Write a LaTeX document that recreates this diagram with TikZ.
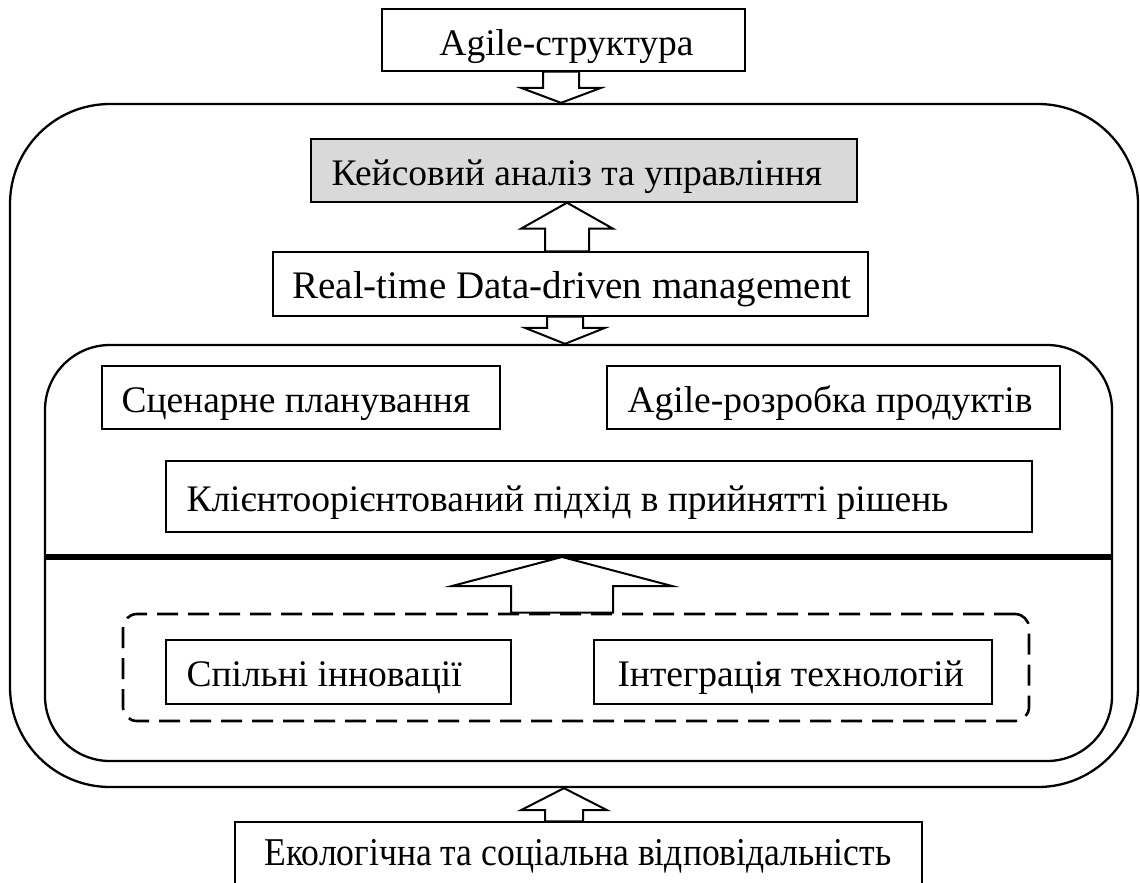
\documentclass[tikz,border=0pt]{standalone}
\usepackage{fontspec}
\setmainfont{Liberation Serif}
\usetikzlibrary{calc}

\definecolor{boxgray}{HTML}{D9D9D9}

% vertical block arrow: tail point #1, tip level #2, shaft half-width #3,
% head half-width #4, head length #5
\newcommand{\blockarrow}[5]{%
  \draw[blockarr] let \p1=(#1), \p2=(#2), \n1={sign(\y2-\y1)} in
    (\x1,\y2) -- (\x1+#4,\y2-\n1*#5) -- (\x1+#3,\y2-\n1*#5) -- (\x1+#3,\y1)
    -- (\x1-#3,\y1) -- (\x1-#3,\y2-\n1*#5) -- (\x1-#4,\y2-\n1*#5) -- cycle;}

\tikzset{
  plainbox/.style={draw, line width=1.4pt, fill=white, inner sep=0pt},
  graybox/.style={plainbox, fill=boxgray},
  lbl/.style={inner sep=0pt, anchor=base west, font=\fontsize{37.5}{40}\selectfont},
  frame/.style={draw, line width=2.3pt, inner sep=0pt},
  blockarr/.style={draw, line width=2pt, fill=white, line join=miter},
  divider/.style={line width=5.5pt},
  dashframe/.style={draw, line width=2.6pt, dash pattern=on 21pt off 10pt, inner sep=0pt, rounded corners=14pt},
}

\begin{document}
\begin{tikzpicture}[x=1pt, y=-1pt]
  \useasboundingbox (0,0) rectangle (1140,883);
  \clip (0,0) rectangle (1140,883);

  % outer frame and the boxes above the inner frame
  \node[frame, rounded corners=100pt, minimum width=1128pt, minimum height=683pt] (outer) at (574,445.5) {};
  \node[plainbox, minimum width=363pt, minimum height=62pt] (top) at (563.5,40) {};
  \node[lbl, anchor=base] (top-t) at ($(top.south)+(3,-16)$) {Agile-структура};
  \node[graybox, minimum width=546pt, minimum height=63pt] (case) at (584,170.5) {};
  \node[lbl] (case-t) at ($(case.south west)+(21,-17)$) {Кейсовий аналіз та управління};
  \node[plainbox, minimum width=595pt, minimum height=64pt] (rt) at (570.5,284) {};
  \node[lbl, font=\fontsize{39}{42}\selectfont] (rt-t) at ($(rt.south west)+(20,-18)$) {Real-time Data-driven management};

  % inner frame
  \node[frame, rounded corners=65pt, minimum width=1067pt, minimum height=416pt] (inner) at (578.5,553) {};
  \node[plainbox, minimum width=398pt, minimum height=63pt] (scen) at (301,397.5) {};
  \node[lbl] (scen-t) at ($(scen.south west)+(20,-17)$) {Сценарне планування};
  \node[plainbox, minimum width=453pt, minimum height=63pt] (agdev) at (833.5,397.5) {};
  \node[lbl] (agdev-t) at ($(agdev.south west)+(21,-17)$) {Agile-розробка продуктів};
  \node[plainbox, minimum width=866pt, minimum height=71pt] (client) at (599,496.5) {};
  \node[lbl] (client-t) at ($(client.south west)+(21,-21)$) {Клієнтоорієнтований підхід в прийнятті рішень};

  % divider across the inner frame
  \coordinate (divL) at (inner.west |- 0,557);
  \coordinate (divR) at (inner.east |- 0,557);
  \draw[divider] (divL) -- (divR);

  % dashed group
  \node[dashframe, minimum width=906pt, minimum height=107pt] (group) at (576,667.5) {};
  \node[plainbox, minimum width=345pt, minimum height=64pt] (joint) at (338.5,672) {};
  \node[lbl] (joint-t) at ($(joint.south west)+(21,-18)$) {Спільні інновації};
  \node[plainbox, minimum width=398pt, minimum height=64pt] (integ) at (793,672) {};
  \node[lbl] (integ-t) at ($(integ.south west)+(24,-18)$) {Інтеграція технологій};

  % bottom box, running past the lower edge
  \node[plainbox, minimum width=687pt, minimum height=84pt] (eco) at (578.5,864) {};
  \node[lbl] (eco-t) at ($(eco.north west)+(30,44)$) {\scalebox{0.95}[1.05]{Екологічна та соціальна відповідальність}};

  % block arrows
  \blockarrow{$(top.south)+(-2.5,0)$}{outer.north}{18pt}{40pt}{15pt}
  \blockarrow{$(rt.north)+(-3.5,0)$}{case.south}{22pt}{46pt}{26pt}
  \blockarrow{$(rt.south)+(-5.5,0)$}{inner.north}{18pt}{40pt}{16pt}
  \coordinate (divM) at ($(divL)!0.485!(divR)$);
  \blockarrow{$(group.north)+(-14,0)$}{divM}{51pt}{110pt}{29pt}
  \blockarrow{$(eco.north)+(-14.5,0)$}{outer.south}{19pt}{43pt}{22pt}
\end{tikzpicture}
\end{document}
